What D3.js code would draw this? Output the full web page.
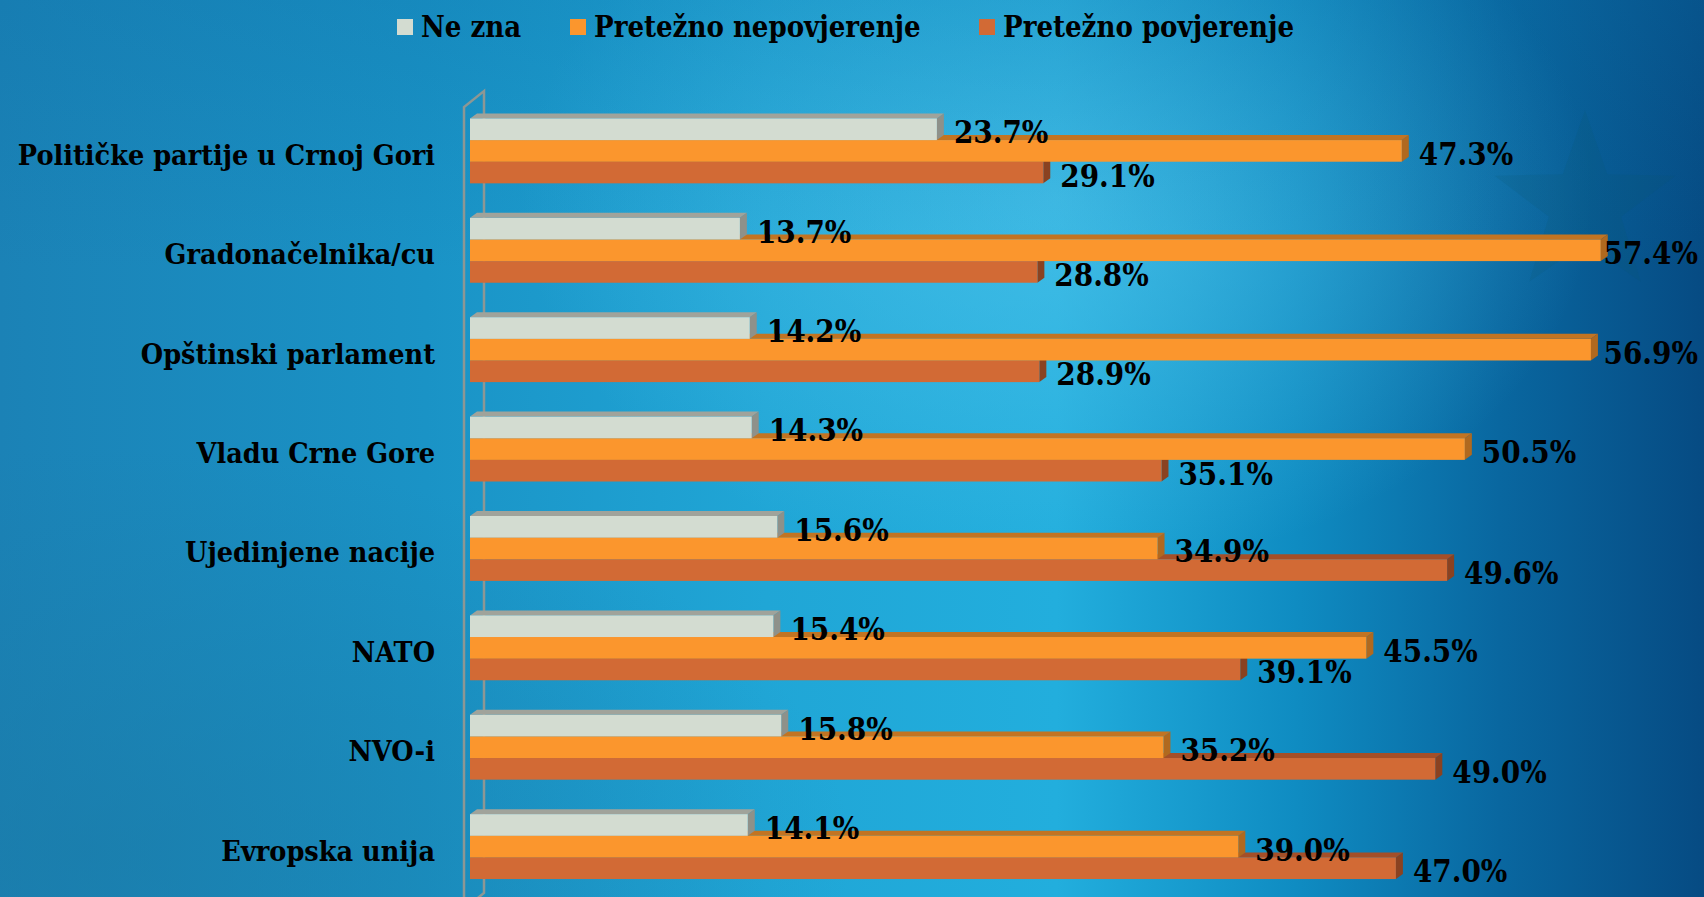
<!DOCTYPE html>
<html>
<head>
<meta charset="utf-8">
<script src="https://cdn.jsdelivr.net/npm/d3@7/dist/d3.min.js"></script>
<style>
  html, body { margin: 0; padding: 0; overflow: hidden; background: #1a8cc0; }
  svg { display: block; }
  .txt { font-family: "DejaVu Serif Condensed", "DejaVu Serif", serif; font-stretch: condensed; font-weight: bold; fill: #000; }
</style>
</head>
<body>
<svg id="chart"></svg>
<script>
const W = 1704, H = 897;

const categories = [
  'Političke partije u Crnoj Gori',
  'Gradonačelnika/cu',
  'Opštinski parlament',
  'Vladu Crne Gore',
  'Ujedinjene nacije',
  'NATO',
  'NVO-i',
  'Evropska unija'
];
const seriesNames = ['Ne zna', 'Pretežno nepovjerenje', 'Pretežno povjerenje'];
const neZna = [23.7, 13.7, 14.2, 14.3, 15.6, 15.4, 15.8, 14.1];
const nepovjerenje = [47.3, 57.4, 56.9, 50.5, 34.9, 45.5, 35.2, 39.0];
const povjerenje = [29.1, 28.8, 28.9, 35.1, 49.6, 39.1, 49.0, 47.0];
const seriesValues = [neZna, nepovjerenje, povjerenje];

// front / top / side shades per series
const shades = {
  'Ne zna': { front: '#d3dcd1', top: '#a0a39b', side: '#8e918a' },
  'Pretežno nepovjerenje': { front: '#fb962d', top: '#c27422', side: '#b0691f' },
  'Pretežno povjerenje': { front: '#d26a35', top: '#a44f28', side: '#8a4221' }
};

const DX = 7, DY = 5;

const svg = d3.select('#chart').attr('width', W).attr('height', H);
const defs = svg.append('defs');

// background
const bg = defs.append('linearGradient').attr('id', 'bgH').attr('x1', 0).attr('x2', 1).attr('y1', 0).attr('y2', 0);
[[0, '#1b82b6'], [0.25, '#1a93c6'], [0.45, '#20a6d6'], [0.62, '#22aedd'], [0.76, '#0f8cc2'], [0.88, '#0967a0'], [1, '#064b83']]
  .forEach(([o, c]) => bg.append('stop').attr('offset', o).attr('stop-color', c));

const glow = defs.append('radialGradient').attr('id', 'glow').attr('cx', 0.62).attr('cy', 0.22).attr('r', 0.42)
  .attr('gradientTransform', 'translate(0.62,0.22) scale(0.75,1) translate(-0.62,-0.22)');
glow.append('stop').attr('offset', 0).attr('stop-color', '#55c6ec').attr('stop-opacity', 0.6);
glow.append('stop').attr('offset', 1).attr('stop-color', '#55c6ec').attr('stop-opacity', 0);

const dim = defs.append('radialGradient').attr('id', 'dim').attr('cx', 0.05).attr('cy', 0.95).attr('r', 0.45);
dim.append('stop').attr('offset', 0).attr('stop-color', '#1a7aa6').attr('stop-opacity', 0.6);
dim.append('stop').attr('offset', 1).attr('stop-color', '#1a7aa6').attr('stop-opacity', 0);

const topDark = defs.append('linearGradient').attr('id', 'topDark').attr('x1', 0).attr('x2', 0).attr('y1', 0).attr('y2', 1);
topDark.append('stop').attr('offset', 0).attr('stop-color', '#0b6ea6').attr('stop-opacity', 0.25);
topDark.append('stop').attr('offset', 0.3).attr('stop-color', '#0b6ea6').attr('stop-opacity', 0);

svg.append('rect').attr('width', W).attr('height', H).attr('fill', 'url(#bgH)');
svg.append('rect').attr('width', W).attr('height', H).attr('fill', 'url(#glow)');
svg.append('rect').attr('width', W).attr('height', H).attr('fill', 'url(#dim)');
svg.append('rect').attr('width', W).attr('height', H).attr('fill', 'url(#topDark)');

// faint star, top right
const star = d3.range(10).map(i => {
  const r = i % 2 ? 38 : 95;
  const a = -Math.PI / 2 + i * Math.PI / 5;
  return [1585 + r * Math.cos(a), 205 + r * Math.sin(a)];
});
svg.append('polygon').attr('points', star.join(' ')).attr('fill', '#0b5a6a').attr('opacity', 0.15);

// scales
const x = d3.scaleLinear().domain([0, 60]).range([470, 1652]);
const y = d3.scaleBand().domain(categories).range([101.2, 896.3]).paddingInner(0.347).paddingOuter(0.1735);
const ySub = d3.scaleBand().domain(seriesNames).range([0, y.bandwidth()]);

// back wall
const wall = svg.append('g').attr('fill', 'none').attr('stroke', '#8d9794').attr('stroke-width', 2.5);
wall.append('path').attr('d', 'M464,920 L464,107 L484,91 L484,893 L464,909');

// bars
const rows = categories.map((cat, i) => seriesNames.map((s, j) => ({ cat, s, v: seriesValues[j][i] })));

const groups = svg.append('g').selectAll('g.cat')
  .data(rows)
  .join('g')
  .attr('class', 'cat');

groups.each(function(row) {
  const g = d3.select(this);
  row.slice().reverse().forEach(d => {
    const x0 = x(0), x1 = x(d.v);
    const y0 = y(d.cat) + ySub(d.s), y1 = y0 + ySub.bandwidth();
    const c = shades[d.s];
    g.append('polygon')
      .attr('points', [[x0, y0], [x0 + DX, y0 - DY], [x1 + DX, y0 - DY], [x1, y0]].join(' '))
      .attr('fill', c.top);
    g.append('polygon')
      .attr('points', [[x1, y0], [x1 + DX, y0 - DY], [x1 + DX, y1 - DY], [x1, y1]].join(' '))
      .attr('fill', c.side);
    g.append('rect')
      .attr('x', x0).attr('y', y0)
      .attr('width', x1 - x0).attr('height', y1 - y0)
      .attr('fill', c.front);
  });
});

// value labels (pushed back inside the right edge when they would overflow)
const fmt = d3.format('.1f');
svg.append('g').selectAll('text')
  .data(rows.flat())
  .join('text')
  .attr('class', 'txt')
  .attr('y', d => y(d.cat) + ySub(d.s) + ySub.bandwidth() / 2 + 3)
  .attr('dominant-baseline', 'central')
  .attr('font-size', 31)
  .text(d => fmt(d.v) + '%')
  .attr('x', function(d) {
    const w = this.getComputedTextLength();
    return Math.min(x(d.v) + DX + 10, W - 6 - w);
  });

// category labels
svg.append('g').selectAll('text')
  .data(categories)
  .join('text')
  .attr('class', 'txt')
  .attr('x', 435)
  .attr('y', d => y(d) + y.bandwidth() / 2 + 4)
  .attr('dominant-baseline', 'central')
  .attr('text-anchor', 'end')
  .attr('font-size', 28.5)
  .text(d => d);

// legend
const legendX = [397, 570, 979];
const legend = svg.append('g').selectAll('g')
  .data(seriesNames)
  .join('g')
  .attr('transform', (d, i) => `translate(${legendX[i]},0)`);
legend.append('rect')
  .attr('x', 0).attr('y', 19).attr('width', 16).attr('height', 16)
  .attr('fill', d => shades[d].front);
legend.append('text')
  .attr('class', 'txt')
  .attr('x', 24).attr('y', 27)
  .attr('dominant-baseline', 'central')
  .attr('font-size', 29)
  .text(d => d);
</script>
</body>
</html>
